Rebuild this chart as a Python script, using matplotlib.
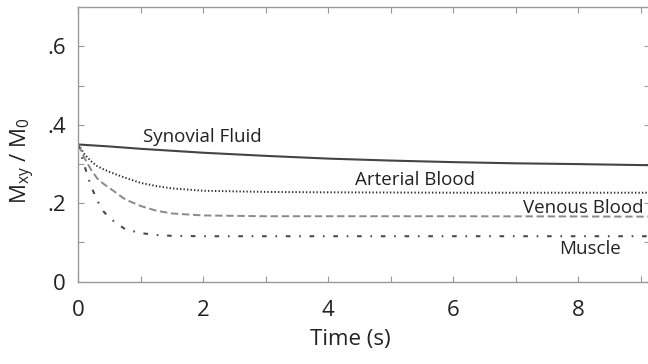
import matplotlib
matplotlib.use("Agg")
import matplotlib.pyplot as plt
from matplotlib.ticker import MultipleLocator, FixedLocator, FixedFormatter

plt.rcParams['font.family'] = ['Open Sans', 'DejaVu Sans']

# Data
t_syn = [0, 0.5, 1, 2, 3, 4, 5, 6, 7, 8, 9.2]
synovial = [0.350, 0.345, 0.339, 0.329, 0.321, 0.314, 0.309, 0.305, 0.302, 0.300, 0.297]

t_fast = [0, 0.1, 0.2, 0.3, 0.4, 0.5, 0.75, 1.0, 1.25, 1.5, 2, 3, 4, 6, 9.2]
arterial = [0.350, 0.325, 0.308, 0.295, 0.287, 0.280, 0.265, 0.252, 0.244, 0.238, 0.232, 0.229, 0.228, 0.227, 0.227]
venous = [0.350, 0.315, 0.287, 0.264, 0.250, 0.239, 0.210, 0.193, 0.181, 0.174, 0.169, 0.167, 0.167, 0.167, 0.166]
muscle = [0.350, 0.295, 0.245, 0.208, 0.180, 0.162, 0.134, 0.124, 0.119, 0.117, 0.116, 0.116, 0.116, 0.116, 0.116]

labels = ["Synovial Fluid", "Arterial Blood", "Venous Blood", "Muscle"]
label_x = [1.04, 4.43, 7.11, 7.69]
label_y = [0.369, 0.260, 0.187, 0.083]

x_ticks = [0, 2, 4, 6, 8]
y_ticks = [0, 0.2, 0.4, 0.6]
y_tick_labels = ["0", ".2", ".4", ".6"]

W, H = 648, 364
fig = plt.figure(figsize=(W / 100, H / 100), dpi=100)
ax = fig.add_axes([78.3 / W, (H - 281.7) / H, (649.5 - 78.3) / W, (281.7 - 7.3) / H])

ax.plot(t_syn, synovial, color='#444444', lw=1.5, solid_capstyle='butt')
ax.plot(t_fast, arterial, color='#2e2e2e', lw=1.4, dashes=(0.7, 1.1))
ax.plot(t_fast, venous, color='#8a8a8a', lw=1.4, dashes=(3.8, 1.9))
ax.plot(t_fast, muscle, color='#4a4a4a', lw=1.5, dashes=(2.2, 4.2, 0.8, 4.2))

for lab, lx, ly in zip(labels, label_x, label_y):
    ax.text(lx, ly, lab, ha='left', va='center', fontsize=13.5, color='#222222')

ax.set_xlim(0, (649.5 - 78.3) / 62.5)
ax.set_ylim(0, 0.7)

ax.xaxis.set_major_locator(FixedLocator(x_ticks))
ax.xaxis.set_minor_locator(MultipleLocator(1))
ax.yaxis.set_major_locator(FixedLocator(y_ticks))
ax.yaxis.set_major_formatter(FixedFormatter(y_tick_labels))
ax.yaxis.set_minor_locator(MultipleLocator(0.1))

ax.tick_params(which='both', direction='in', top=True, right=True, length=4,
               width=0.8, color='#999999')
ax.tick_params(axis='x', which='major', labelsize=16, pad=13, labelcolor='#222222')
ax.tick_params(axis='y', which='major', labelsize=16, pad=9, labelcolor='#222222')

for s in ax.spines.values():
    s.set_color('#999999')
    s.set_linewidth(1.0)

fig.text(350 / W, (H - 340) / H, "Time (s)", ha='center', va='center', fontsize=16, color='#222222')
fig.text(23 / W, (H - 161) / H, r"M$_{\mathregular{xy}}$ / M$_{\mathregular{0}}$", ha='center', va='center',
         rotation=90, fontsize=16, color='#222222')

fig.savefig("out.png", dpi=100)
